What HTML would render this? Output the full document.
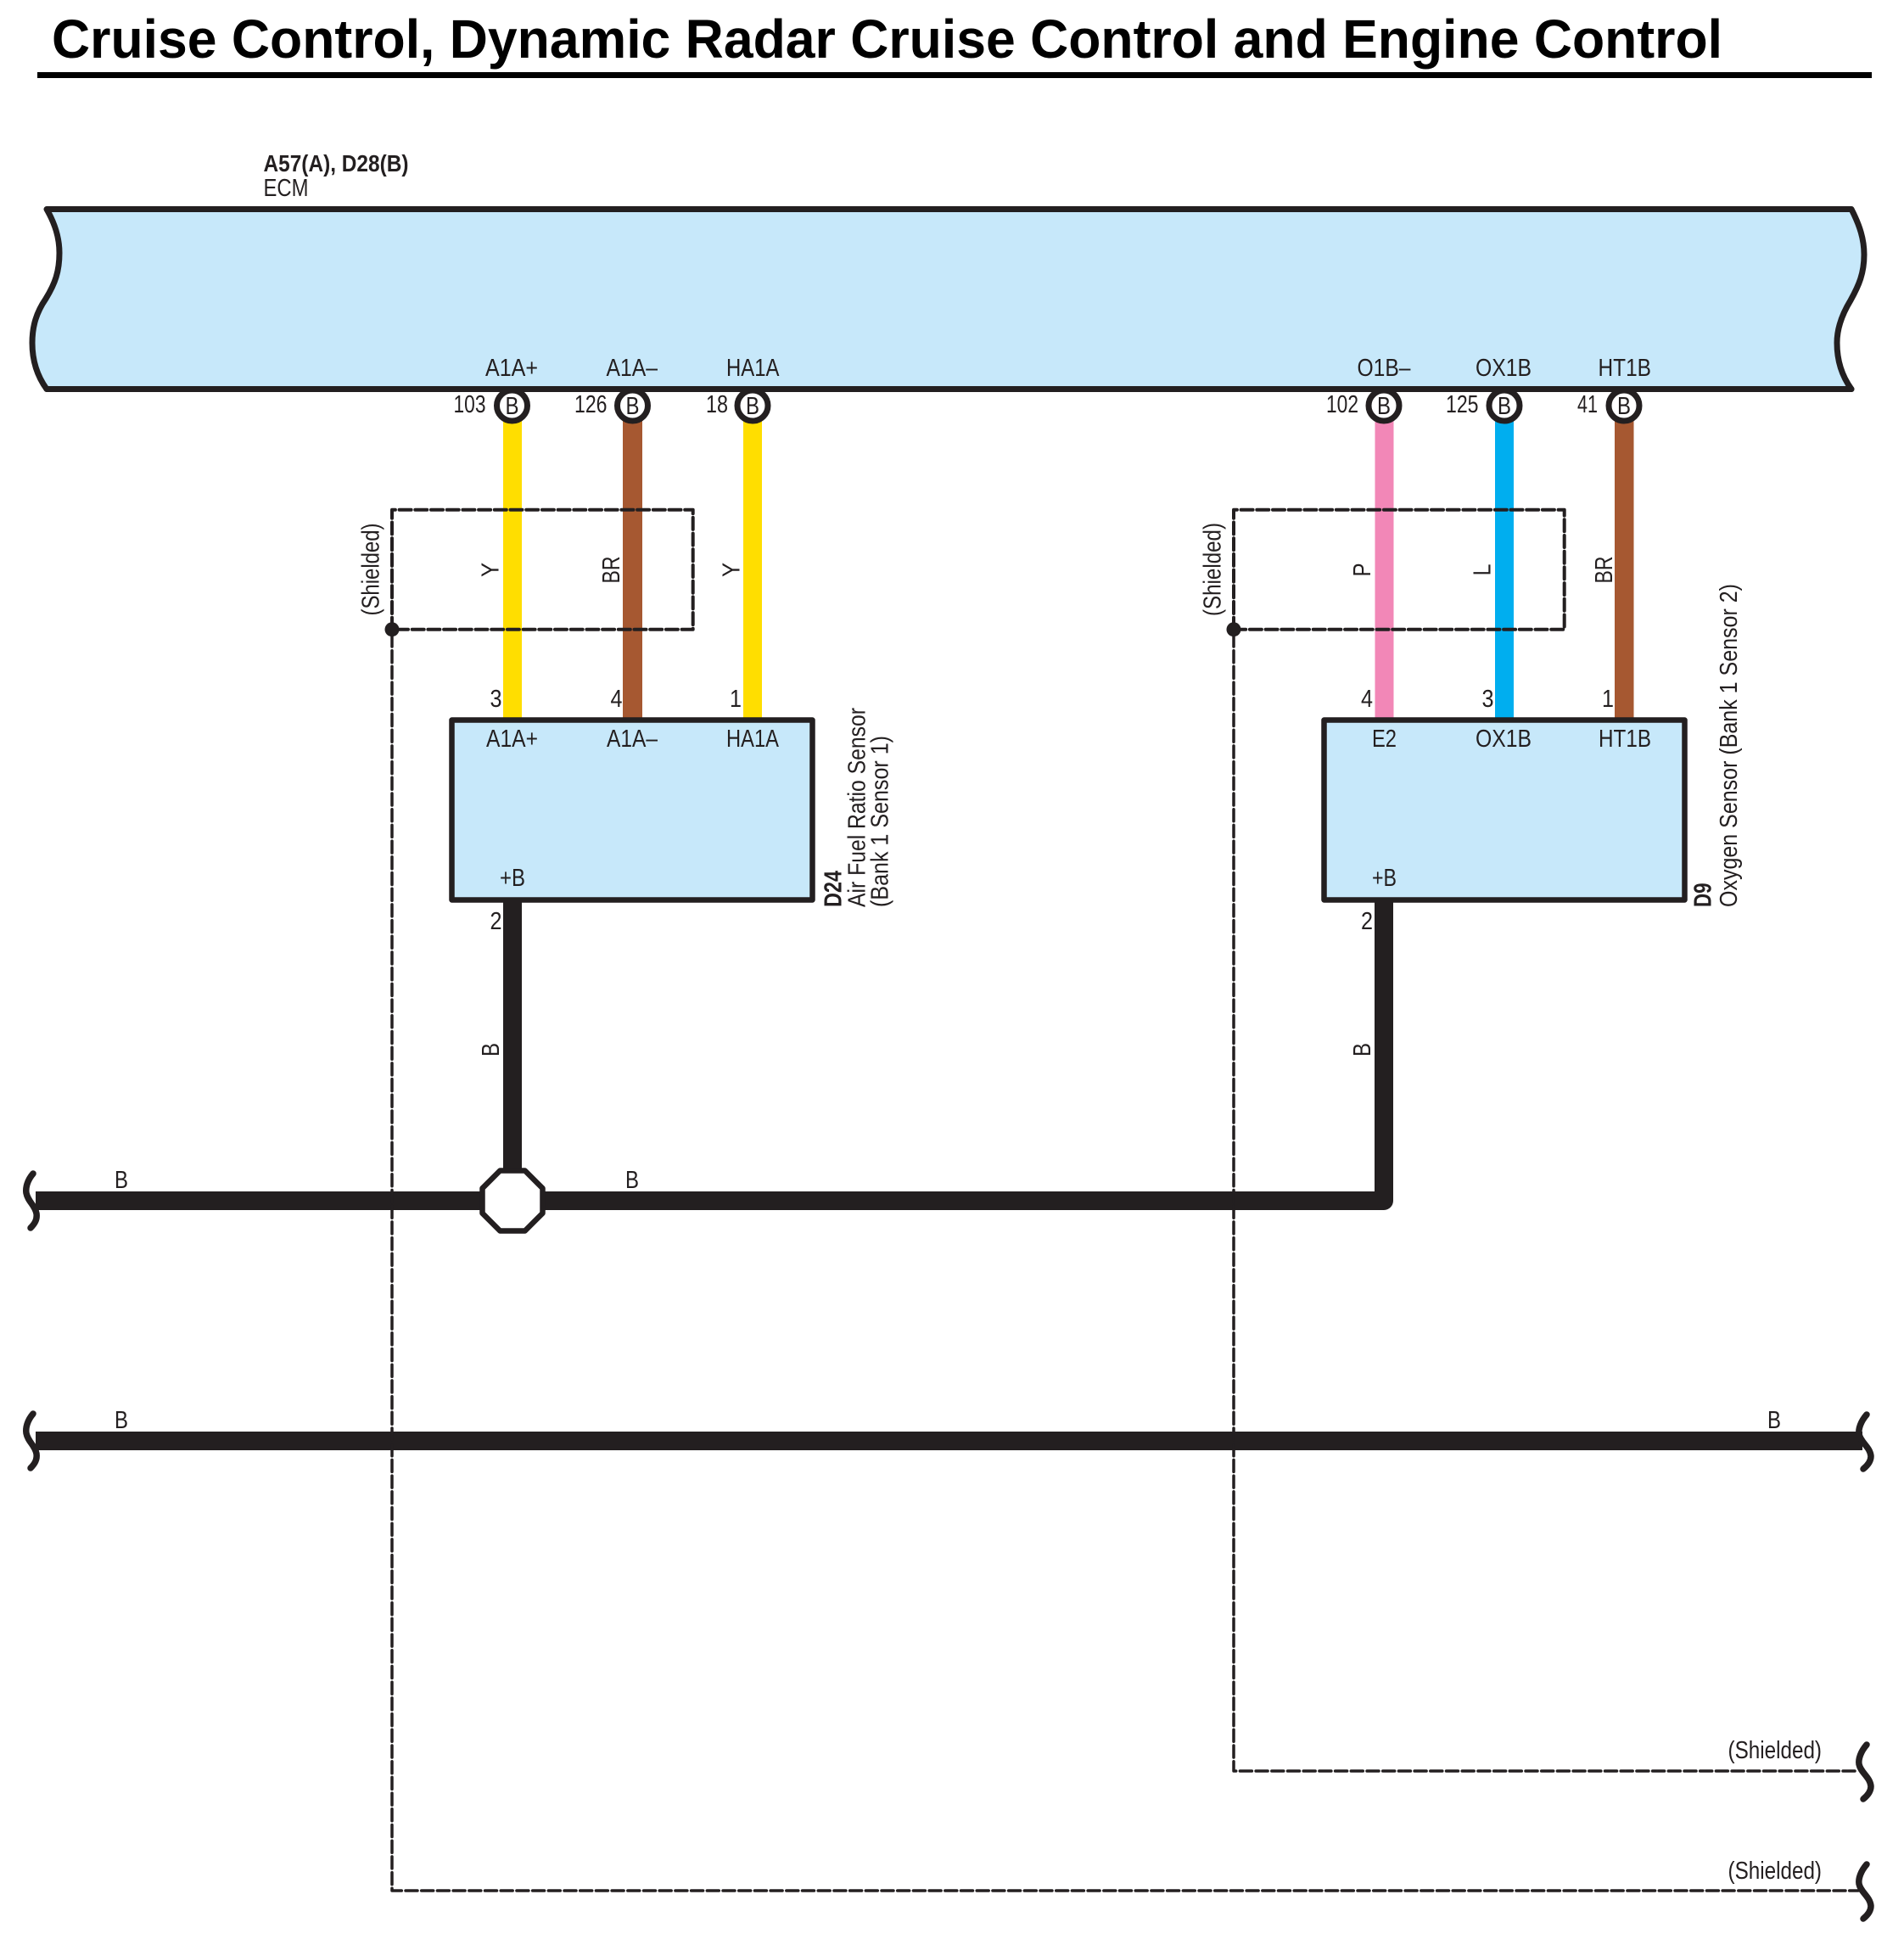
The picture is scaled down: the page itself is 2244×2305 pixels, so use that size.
<!DOCTYPE html>
<html><head><meta charset="utf-8"><title>Cruise Control, Dynamic Radar Cruise Control and Engine Control</title>
<style>
html,body{margin:0;padding:0;background:#fff}
svg{display:block}
text{font-family:"Liberation Sans",Arial,sans-serif;fill:#231f20;font-size:29px}
.c{text-anchor:middle}
.b{font-weight:bold}
.ln{fill:none;stroke:#231f20;stroke-linecap:round;stroke-linejoin:round}
</style></head><body>
<svg xmlns="http://www.w3.org/2000/svg" width="2244" height="2305" viewBox="0 0 2244 2305">
<rect width="2244" height="2305" fill="#fff"/>
<text x="61" y="68" class="b" style="font-size:64px;fill:#000" textLength="1969" lengthAdjust="spacingAndGlyphs">Cruise Control, Dynamic Radar Cruise Control and Engine Control</text>
<rect x="44" y="85" width="2162" height="7" fill="#000"/>

<text x="310.500" y="202" class="b" style="font-size:28px" textLength="171" lengthAdjust="spacingAndGlyphs">A57(A), D28(B)</text>
<text x="310.500" y="231" textLength="53" lengthAdjust="spacingAndGlyphs">ECM</text>

<!-- ECM -->
<path d="M55 246.500 H2182 C2192 266 2197 282 2197 300 C2197 322 2191 336 2181 354 C2170 372 2165 388 2165 404 C2165 424 2170 442 2182 458.500 H55 C43 442 38 424 38 404 C38 384 43 368 54 352 C65 334 70 320 70 298 C70 280 65 264 55 246.500 Z" fill="#c7e8fa" stroke="#231f20" stroke-width="7" stroke-linejoin="round"/>

<!-- coloured wires -->
<rect x="593" y="495" width="22" height="352" fill="#ffde00"/>
<rect x="734" y="495" width="23" height="352" fill="#a65831"/>
<rect x="876" y="495" width="22" height="352" fill="#ffde00"/>
<rect x="1620.500" y="495" width="22" height="352" fill="#f287b7"/>
<rect x="1762" y="495" width="22" height="352" fill="#00aeef"/>
<rect x="1903" y="495" width="22.500" height="352" fill="#a65831"/>

<!-- ECM terminals -->
<g fill="#fff" stroke="#231f20" stroke-width="7">
<circle cx="603.500" cy="478" r="18"/><circle cx="745.500" cy="478" r="18"/><circle cx="887" cy="478" r="18"/>
<circle cx="1631" cy="478" r="18"/><circle cx="1773" cy="478" r="18"/><circle cx="1914" cy="478" r="18"/>
</g>
<path d="M55 458.500H2182" class="ln" stroke-width="7"/>

<!-- sensors -->
<rect x="532.500" y="848.500" width="425" height="212" fill="#c7e8fa" stroke="#231f20" stroke-width="6.500" stroke-linejoin="round"/>
<rect x="1560.500" y="848.500" width="425" height="212" fill="#c7e8fa" stroke="#231f20" stroke-width="6.500" stroke-linejoin="round"/>

<!-- black wires -->
<path d="M42 1415H1631V1063" class="ln" style="stroke-linecap:butt" stroke-width="22"/>
<path d="M604 1063V1380" class="ln" style="stroke-linecap:butt" stroke-width="22"/>
<path d="M42 1698H2195" class="ln" style="stroke-linecap:butt" stroke-width="22"/>
<polygon points="589.300,1379.500 618.700,1379.500 639.500,1400.300 639.500,1429.700 618.700,1450.500 589.300,1450.500 568.500,1429.700 568.500,1400.300" fill="#fff" stroke="#231f20" stroke-width="6.500" stroke-linejoin="round"/>

<!-- shield dashed -->
<g class="ln" fill="none">
<path d="M462 741.700V600.700H816.700V741.700H470" stroke-width="4" stroke-dasharray="14 4.700" fill="none"/>
<path d="M1454 741.700V600.700H1843.700V741.700H1462" stroke-width="4" stroke-dasharray="14 4.700" fill="none"/>
<path d="M462 748V2228H2190" stroke-width="3.500" stroke-dasharray="14 4.700" fill="none"/>
<path d="M1454 748V2087H2190" stroke-width="3.500" stroke-dasharray="14 4.700" fill="none"/>
</g>
<circle cx="462" cy="741.700" r="8.500" fill="#231f20"/>
<circle cx="1454" cy="741.700" r="8.500" fill="#231f20"/>

<!-- break squiggles -->
<g class="ln" stroke-width="7.500">
<path d="M39 1383 C32 1391 30 1400 31 1406 C33 1416 41 1420 43 1430 C44 1437 41 1442 36 1447"/>
<path d="M39 1666 C32 1674 30 1683 31 1689 C33 1699 41 1703 43 1713 C44 1720 41 1725 36 1730"/>
<path d="M2200 1667 C2193 1675 2190 1684 2191 1690 C2193 1700 2204 1705 2205 1716 C2205 1722 2201 1727 2196 1731"/>
<path d="M2200 2056 C2193 2064 2190 2073 2191 2079 C2193 2089 2204 2094 2205 2105 C2205 2111 2201 2116 2196 2120"/>
<path d="M2200 2197 C2193 2205 2190 2214 2191 2220 C2193 2230 2204 2235 2205 2246 C2205 2252 2201 2257 2196 2261"/>
</g>

<!-- ECM pin names -->
<text x="572" y="443" textLength="62" lengthAdjust="spacingAndGlyphs">A1A+</text>
<text x="714.500" y="443" textLength="60.500" lengthAdjust="spacingAndGlyphs">A1A–</text>
<text x="856" y="443" textLength="62.500" lengthAdjust="spacingAndGlyphs">HA1A</text>
<text x="1599.500" y="443" textLength="63" lengthAdjust="spacingAndGlyphs">O1B–</text>
<text x="1739" y="443" textLength="66" lengthAdjust="spacingAndGlyphs">OX1B</text>
<text x="1883.500" y="443" textLength="62.500" lengthAdjust="spacingAndGlyphs">HT1B</text>

<!-- ECM pin numbers -->
<text x="534.500" y="486" textLength="38" lengthAdjust="spacingAndGlyphs">103</text>
<text x="677" y="486" textLength="38.500" lengthAdjust="spacingAndGlyphs">126</text>
<text x="832" y="486" textLength="26" lengthAdjust="spacingAndGlyphs">18</text>
<text x="1563" y="486" textLength="38" lengthAdjust="spacingAndGlyphs">102</text>
<text x="1704" y="486" textLength="38.500" lengthAdjust="spacingAndGlyphs">125</text>
<text x="1859" y="486" textLength="24" lengthAdjust="spacingAndGlyphs">41</text>

<!-- connector letter -->
<text x="603.500" y="488" class="c" textLength="16" lengthAdjust="spacingAndGlyphs">B</text><text x="745.500" y="488" class="c" textLength="16" lengthAdjust="spacingAndGlyphs">B</text><text x="887" y="488" class="c" textLength="16" lengthAdjust="spacingAndGlyphs">B</text>
<text x="1631" y="488" class="c" textLength="16" lengthAdjust="spacingAndGlyphs">B</text><text x="1773" y="488" class="c" textLength="16" lengthAdjust="spacingAndGlyphs">B</text><text x="1914" y="488" class="c" textLength="16" lengthAdjust="spacingAndGlyphs">B</text>

<!-- sensor pin names -->
<text x="573" y="880" textLength="61" lengthAdjust="spacingAndGlyphs">A1A+</text>
<text x="715" y="880" textLength="60" lengthAdjust="spacingAndGlyphs">A1A–</text>
<text x="856" y="880" textLength="62" lengthAdjust="spacingAndGlyphs">HA1A</text>
<text x="589" y="1044" textLength="30" lengthAdjust="spacingAndGlyphs">+B</text>
<text x="1617" y="880" textLength="29" lengthAdjust="spacingAndGlyphs">E2</text>
<text x="1739" y="880" textLength="66" lengthAdjust="spacingAndGlyphs">OX1B</text>
<text x="1884" y="880" textLength="62" lengthAdjust="spacingAndGlyphs">HT1B</text>
<text x="1617" y="1044" textLength="29" lengthAdjust="spacingAndGlyphs">+B</text>

<!-- sensor pin numbers -->
<text x="577.500" y="833" textLength="14" lengthAdjust="spacingAndGlyphs">3</text>
<text x="719.500" y="833" textLength="14" lengthAdjust="spacingAndGlyphs">4</text>
<text x="860" y="833" textLength="14" lengthAdjust="spacingAndGlyphs">1</text>
<text x="577.500" y="1095" textLength="14" lengthAdjust="spacingAndGlyphs">2</text>
<text x="1604" y="833" textLength="14" lengthAdjust="spacingAndGlyphs">4</text>
<text x="1746.500" y="833" textLength="14" lengthAdjust="spacingAndGlyphs">3</text>
<text x="1888" y="833" textLength="14" lengthAdjust="spacingAndGlyphs">1</text>
<text x="1604" y="1095" textLength="14" lengthAdjust="spacingAndGlyphs">2</text>

<!-- wire colour labels (rotated) -->
<text transform="translate(587.700 671.500) rotate(-90)" class="c" textLength="17" lengthAdjust="spacingAndGlyphs">Y</text>
<text transform="translate(730 671.500) rotate(-90)" class="c" textLength="32" lengthAdjust="spacingAndGlyphs">BR</text>
<text transform="translate(871.500 671.500) rotate(-90)" class="c" textLength="17" lengthAdjust="spacingAndGlyphs">Y</text>
<text transform="translate(1615 671.500) rotate(-90)" class="c" textLength="16" lengthAdjust="spacingAndGlyphs">P</text>
<text transform="translate(1756.500 671.500) rotate(-90)" class="c" textLength="14" lengthAdjust="spacingAndGlyphs">L</text>
<text transform="translate(1900 671.500) rotate(-90)" class="c" textLength="32" lengthAdjust="spacingAndGlyphs">BR</text>
<text transform="translate(588 1237) rotate(-90)" class="c" textLength="16" lengthAdjust="spacingAndGlyphs">B</text>
<text transform="translate(1615 1237) rotate(-90)" class="c" textLength="16" lengthAdjust="spacingAndGlyphs">B</text>

<!-- shielded vertical labels -->
<text transform="translate(446.700 671) rotate(-90)" class="c" textLength="109" lengthAdjust="spacingAndGlyphs">(Shielded)</text>
<text transform="translate(1438.700 671) rotate(-90)" class="c" textLength="110" lengthAdjust="spacingAndGlyphs">(Shielded)</text>

<!-- sensor names -->
<text transform="translate(991.500 1069) rotate(-90)" class="b" textLength="43" lengthAdjust="spacingAndGlyphs">D24</text>
<text transform="translate(1019.500 1069) rotate(-90)" textLength="235" lengthAdjust="spacingAndGlyphs">Air Fuel Ratio Sensor</text>
<text transform="translate(1046.500 1069) rotate(-90)" textLength="202" lengthAdjust="spacingAndGlyphs">(Bank 1 Sensor 1)</text>
<text transform="translate(2016.500 1069) rotate(-90)" class="b" textLength="28.500" lengthAdjust="spacingAndGlyphs">D9</text>
<text transform="translate(2047 1069) rotate(-90)" textLength="381" lengthAdjust="spacingAndGlyphs">Oxygen Sensor (Bank 1 Sensor 2)</text>

<!-- horizontal labels -->
<text x="143" y="1400" class="c" textLength="16" lengthAdjust="spacingAndGlyphs">B</text>
<text x="745" y="1400" class="c" textLength="16" lengthAdjust="spacingAndGlyphs">B</text>
<text x="143" y="1683" class="c" textLength="16" lengthAdjust="spacingAndGlyphs">B</text>
<text x="2091" y="1683" class="c" textLength="16" lengthAdjust="spacingAndGlyphs">B</text>
<text x="2036.500" y="2072" textLength="110.500" lengthAdjust="spacingAndGlyphs">(Shielded)</text>
<text x="2036.500" y="2214" textLength="110.500" lengthAdjust="spacingAndGlyphs">(Shielded)</text>
</svg>
</body></html>
